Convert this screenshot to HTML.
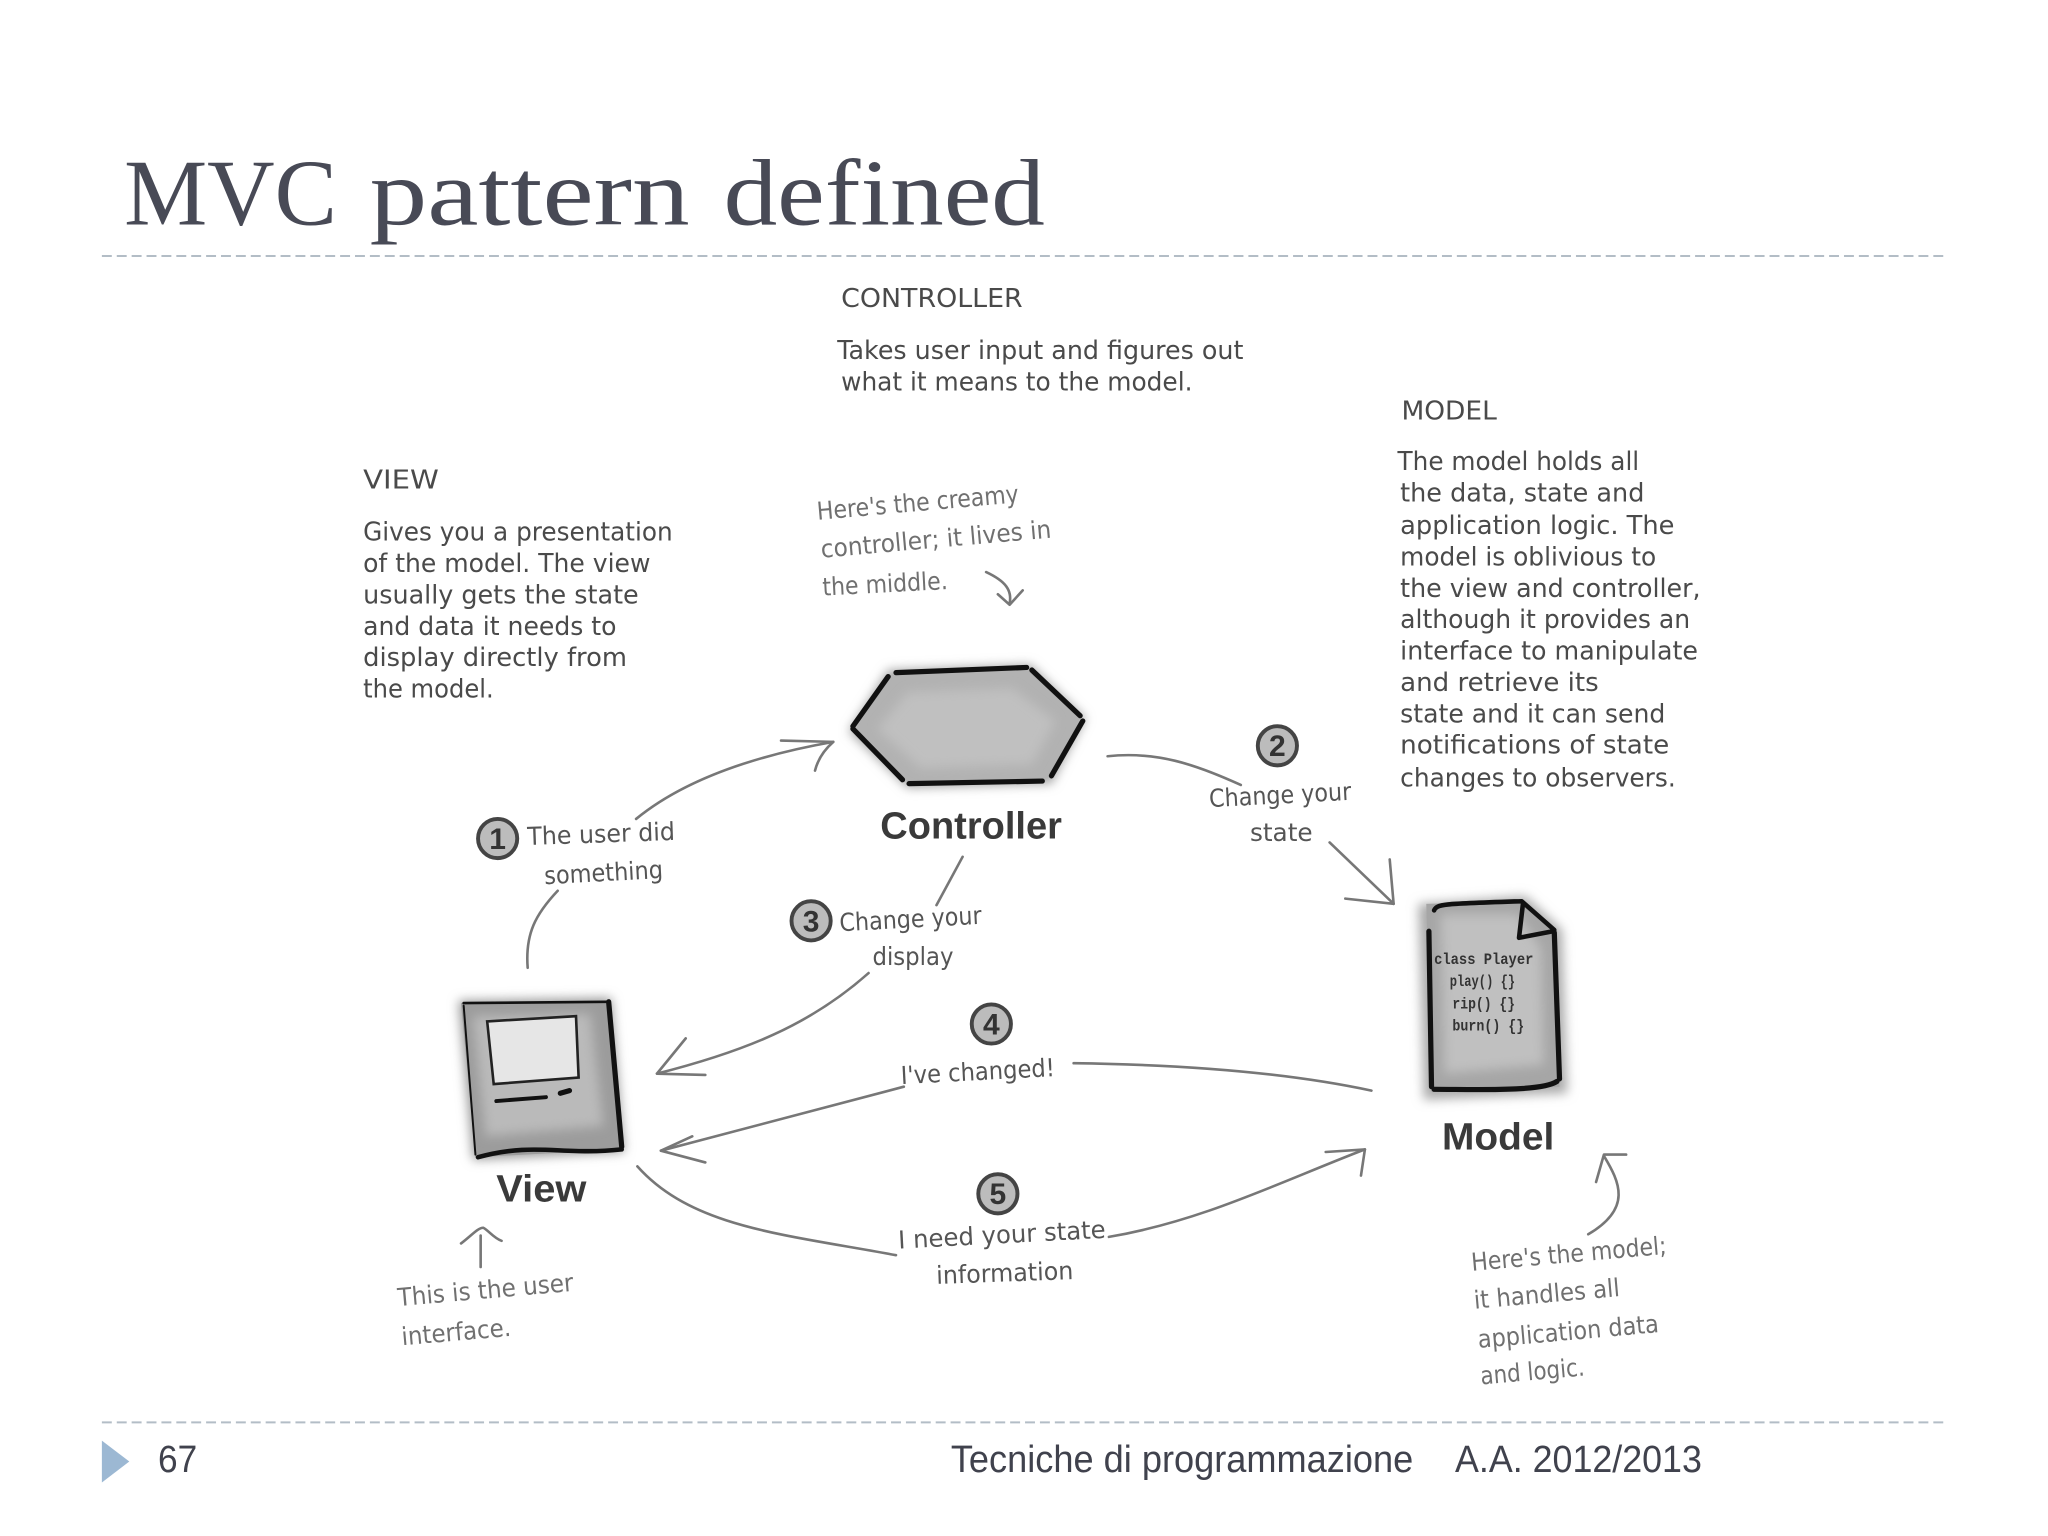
<!DOCTYPE html>
<html lang="en">
<head>
<meta charset="utf-8">
<title>MVC pattern defined</title>
<style>
html,body{margin:0;padding:0;background:#fff;width:2048px;height:1536px;overflow:hidden}
svg{display:block}
.h{font-family:"DejaVu Sans",sans-serif;font-size:20px;fill:#4a4a4a}
.n{font-family:"DejaVu Sans",sans-serif;font-size:19px;fill:#707070}
.l{font-family:"Liberation Sans",sans-serif;font-weight:bold;font-size:29px;fill:#3a3a3a}
.f{font-family:"Liberation Sans",sans-serif;font-size:29px;fill:#40424d}
.t{font-family:"Liberation Serif",serif;font-size:72px;fill:#484a56}
.c{fill:none;stroke:#777;stroke-width:2;stroke-linecap:round;stroke-linejoin:round}
.num{font-family:"Liberation Sans",sans-serif;font-weight:bold;font-size:23px;fill:#333;text-anchor:middle}
.circ{fill:#bcbcbc;stroke:#444;stroke-width:3}
.code{font-family:"Liberation Mono",monospace;font-size:12px;font-weight:bold;fill:#333}
</style>
</head>
<body>
<svg width="2048" height="1536" viewBox="0 0 1568 1176" xmlns="http://www.w3.org/2000/svg">
<defs>
<filter id="b" x="-20%" y="-20%" width="140%" height="140%"><feGaussianBlur stdDeviation="4"/></filter>
</defs>
<rect width="1568" height="1176" fill="#fff"/>

<text class="t" x="95" y="172" textLength="163" lengthAdjust="spacingAndGlyphs">MVC</text>
<text class="t" x="283" y="172" textLength="245" lengthAdjust="spacingAndGlyphs">pattern</text>
<text class="t" x="554" y="172" textLength="246" lengthAdjust="spacingAndGlyphs">defined</text>
<line x1="78" y1="196" x2="1491" y2="196" stroke="#b3bdc6" stroke-width="1.6" stroke-dasharray="7.6 3.8"/>
<line x1="78" y1="1089" x2="1491" y2="1089" stroke="#b3bdc6" stroke-width="1.6" stroke-dasharray="7.6 3.8"/>
<polygon points="78,1103 99,1119 78,1135" fill="#9cb8d3"/>
<text class="f" x="121" y="1127" textLength="30" lengthAdjust="spacingAndGlyphs">67</text>
<text class="f" x="728" y="1127" textLength="354" lengthAdjust="spacingAndGlyphs">Tecniche di programmazione</text>
<text class="f" x="1114" y="1127" textLength="189" lengthAdjust="spacingAndGlyphs">A.A. 2012/2013</text>

<!-- CONTROLLER text -->
<text class="h" x="644" y="235" textLength="139" lengthAdjust="spacingAndGlyphs">CONTROLLER</text>
<text class="h" x="641" y="275" textLength="311" lengthAdjust="spacingAndGlyphs">Takes user input and figures out</text>
<text class="h" x="644" y="299" textLength="269" lengthAdjust="spacingAndGlyphs">what it means to the model.</text>

<!-- VIEW text -->
<text class="h" x="278" y="374" textLength="58" lengthAdjust="spacingAndGlyphs">VIEW</text>
<text class="h" x="278" y="414" textLength="237" lengthAdjust="spacingAndGlyphs">Gives you a presentation</text>
<text class="h" x="278" y="438" textLength="220" lengthAdjust="spacingAndGlyphs">of the model. The view</text>
<text class="h" x="278" y="462" textLength="211" lengthAdjust="spacingAndGlyphs">usually gets the state</text>
<text class="h" x="278" y="486" textLength="194" lengthAdjust="spacingAndGlyphs">and data it needs to</text>
<text class="h" x="278" y="510" textLength="202" lengthAdjust="spacingAndGlyphs">display directly from</text>
<text class="h" x="278" y="534" textLength="100" lengthAdjust="spacingAndGlyphs">the model.</text>

<!-- MODEL text -->
<text class="h" x="1073" y="321" textLength="73" lengthAdjust="spacingAndGlyphs">MODEL</text>
<text class="h" x="1070" y="360" textLength="185" lengthAdjust="spacingAndGlyphs">The model holds all</text>
<text class="h" x="1072" y="384" textLength="187" lengthAdjust="spacingAndGlyphs">the data, state and</text>
<text class="h" x="1072" y="409" textLength="210" lengthAdjust="spacingAndGlyphs">application logic. The</text>
<text class="h" x="1072" y="433" textLength="196" lengthAdjust="spacingAndGlyphs">model is oblivious to</text>
<text class="h" x="1072" y="457" textLength="230" lengthAdjust="spacingAndGlyphs">the view and controller,</text>
<text class="h" x="1072" y="481" textLength="222" lengthAdjust="spacingAndGlyphs">although it provides an</text>
<text class="h" x="1072" y="505" textLength="228" lengthAdjust="spacingAndGlyphs">interface to manipulate</text>
<text class="h" x="1072" y="529" textLength="152" lengthAdjust="spacingAndGlyphs">and retrieve its</text>
<text class="h" x="1072" y="553" textLength="203" lengthAdjust="spacingAndGlyphs">state and it can send</text>
<text class="h" x="1072" y="577" textLength="206" lengthAdjust="spacingAndGlyphs">notifications of state</text>
<text class="h" x="1072" y="602" textLength="211" lengthAdjust="spacingAndGlyphs">changes to observers.</text>

<!-- Notes -->
<text class="n" transform="translate(626,398) rotate(-5)" textLength="155" lengthAdjust="spacingAndGlyphs">Here's the creamy</text>
<text class="n" transform="translate(629,427) rotate(-5)" textLength="177" lengthAdjust="spacingAndGlyphs">controller; it lives in</text>
<text class="n" transform="translate(630,456) rotate(-3)" textLength="96" lengthAdjust="spacingAndGlyphs">the middle.</text>
<text class="n" transform="translate(305,1000) rotate(-5)" textLength="135" lengthAdjust="spacingAndGlyphs">This is the user</text>
<text class="n" transform="translate(308,1030) rotate(-5)" textLength="84" lengthAdjust="spacingAndGlyphs">interface.</text>
<text class="n" transform="translate(1127,973) rotate(-5)" textLength="150" lengthAdjust="spacingAndGlyphs">Here's the model;</text>
<text class="n" transform="translate(1129,1002) rotate(-5)" textLength="112" lengthAdjust="spacingAndGlyphs">it handles all</text>
<text class="n" transform="translate(1132,1032) rotate(-5)" textLength="139" lengthAdjust="spacingAndGlyphs">application data</text>
<text class="n" transform="translate(1134,1060) rotate(-5)" textLength="80" lengthAdjust="spacingAndGlyphs">and logic.</text>

<!-- Connectors -->
<g class="c">
<path d="M404,741 C402,715 410,700 427,682"/>
<path d="M487,627 C520,600 570,580 638,568"/>
<path d="M598,567 L638,568 C630,575 626,582 624,590"/>
<path d="M848,579 C885,575 915,585 950,601"/>
<path d="M1018,645 L1067,692"/>
<path d="M1064,658 L1067,692 L1030,688"/>
<path d="M737,656 L717,693"/>
<path d="M665,745 C620,785 570,805 503,822"/>
<path d="M525,795 L503,822 L540,823"/>
<path d="M1050,835 C980,820 900,815 822,814"/>
<path d="M692,832 L506,881"/>
<path d="M530,870 L506,881 L540,890"/>
<path d="M488,893 C530,940 600,945 686,961"/>
<path d="M849,947 C920,935 980,905 1045,880"/>
<path d="M1015,882 L1045,880 L1042,900"/>
<path d="M1216,945 C1250,925 1240,905 1228,885"/>
<path d="M1222,905 L1228,884 L1245,884"/>
<path d="M368,970 L368,946"/>
<path d="M353,952 C362,945 366,940 370,940 C374,942 378,948 384,950"/>
<path d="M755,438 C770,445 775,452 773,462"/>
<path d="M764,455 L773,463 L783,452"/>
</g>

<!-- Controller icon -->
<polygon points="650,560 680,513 789,509 831,550 805,600 695,603" fill="#a0a0a0" filter="url(#b)"/>
<polygon points="654,560 683,517 786,513 827,550 802,596 696,599" fill="#b2b2b2"/>
<polygon points="672,558 695,530 775,527 808,552 790,585 705,588" fill="#c0c0c0" filter="url(#b)"/>
<g fill="none" stroke="#111" stroke-width="4" stroke-linecap="round">
<path d="M686,515 L786,511"/><path d="M790,513 L827,548"/><path d="M829,552 L805,594"/>
<path d="M798,598 L696,600"/><path d="M691,597 L653,558"/><path d="M653,556 L680,518"/>
</g>
<text class="l" x="674" y="642" textLength="139" lengthAdjust="spacingAndGlyphs">Controller</text>

<!-- View icon -->
<polygon points="351,766 468,764 478,882 362,888" fill="#999" filter="url(#b)"/>
<polygon points="353,768 466,766 476,880 364,886" fill="#9c9c9c"/>
<polygon points="362,778 452,776 462,862 372,870" fill="#bababa" filter="url(#b)"/>
<polygon points="373,782 441,778 443,825 378,830" fill="#e6e6e6" stroke="#222" stroke-width="2"/>
<g fill="none" stroke="#111" stroke-linecap="round">
<path d="M355,768 L464,767" stroke-width="2"/>
<path d="M466,767 L476,878" stroke-width="4"/>
<path d="M476,880 C430,885 410,874 366,886" stroke-width="3.5"/>
<path d="M355,770 L364,884" stroke-width="1.5"/>
<path d="M380,843 L418,840" stroke-width="3"/>
<path d="M429,837 L436,835" stroke-width="4"/>
</g>
<text class="l" x="380" y="920" textLength="69" lengthAdjust="spacingAndGlyphs">View</text>

<!-- Model icon -->
<path d="M1086,692 L1168,686 L1196,712 L1200,837 L1090,842 Z" fill="#aaa" filter="url(#b)"/>
<path d="M1092,692 L1166,690 L1190,712 L1194,832 L1096,836 Z" fill="#a6a6a6"/>
<path d="M1103,700 L1162,700 L1180,726 L1182,815 L1106,822 Z" fill="#c0c0c0" filter="url(#b)"/>
<g fill="none" stroke="#111" stroke-linecap="round" stroke-linejoin="round">
<path d="M1098,697 C1100,692 1105,692 1165,690 L1190,712" stroke-width="3.5"/>
<path d="M1166,692 L1163,718 L1189,713" stroke-width="3.5"/>
<path d="M1190,714 L1194,826" stroke-width="4"/>
<path d="M1192,828 C1180,836 1130,834 1098,834" stroke-width="4"/>
<path d="M1094,713 L1096,832" stroke-width="4"/>
</g>
<text class="code" x="1098" y="738" textLength="76" lengthAdjust="spacingAndGlyphs">class Player</text>
<text class="code" x="1110" y="755" textLength="50" lengthAdjust="spacingAndGlyphs">play() {}</text>
<text class="code" x="1112" y="772" textLength="48" lengthAdjust="spacingAndGlyphs">rip() {}</text>
<text class="code" x="1112" y="789" textLength="55" lengthAdjust="spacingAndGlyphs">burn() {}</text>
<text class="l" x="1104" y="880" textLength="86" lengthAdjust="spacingAndGlyphs">Model</text>

<!-- Numbered circles -->
<circle class="circ" cx="381" cy="642" r="15"/><text class="num" x="381" y="650">1</text>
<circle class="circ" cx="978" cy="571" r="15"/><text class="num" x="978" y="579">2</text>
<circle class="circ" cx="621" cy="705" r="15"/><text class="num" x="621" y="713">3</text>
<circle class="circ" cx="759" cy="784" r="15"/><text class="num" x="759" y="792">4</text>
<circle class="circ" cx="764" cy="914" r="15"/><text class="num" x="764" y="922">5</text>

<!-- Connector labels -->
<text class="n" style="fill:#555" transform="translate(404,647) rotate(-2)" textLength="113" lengthAdjust="spacingAndGlyphs">The user did</text>
<text class="n" style="fill:#555" transform="translate(417,677) rotate(-3)" textLength="91" lengthAdjust="spacingAndGlyphs">something</text>
<text class="n" style="fill:#555" transform="translate(926,618) rotate(-3)" textLength="109" lengthAdjust="spacingAndGlyphs">Change your</text>
<text class="n" style="fill:#555" x="957" y="644" textLength="48" lengthAdjust="spacingAndGlyphs">state</text>
<text class="n" style="fill:#555" transform="translate(643,713) rotate(-3)" textLength="109" lengthAdjust="spacingAndGlyphs">Change your</text>
<text class="n" style="fill:#555" x="668" y="739" textLength="62" lengthAdjust="spacingAndGlyphs">display</text>
<text class="n" style="fill:#555" transform="translate(690,830) rotate(-3)" textLength="118" lengthAdjust="spacingAndGlyphs">I've changed!</text>
<text class="n" style="fill:#555" transform="translate(688,956) rotate(-3)" textLength="159" lengthAdjust="spacingAndGlyphs">I need your state</text>
<text class="n" style="fill:#555" transform="translate(717,983) rotate(-2)" textLength="105" lengthAdjust="spacingAndGlyphs">information</text>
</svg>
</body>
</html>
